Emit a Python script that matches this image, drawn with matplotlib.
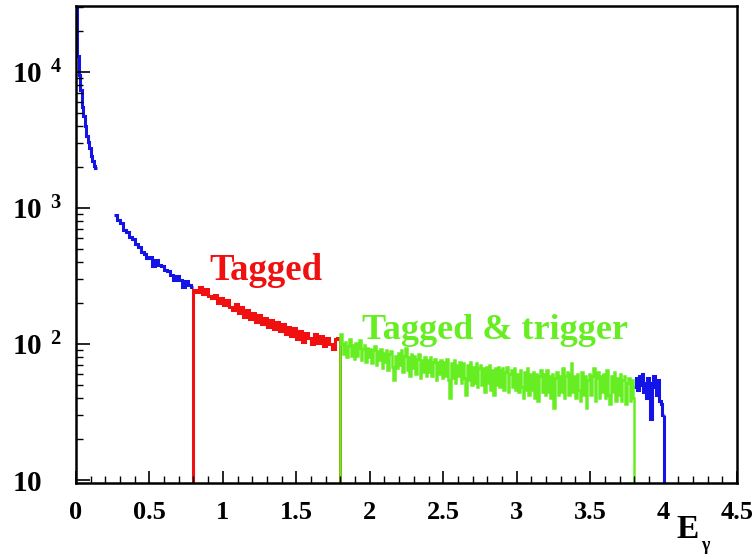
import matplotlib
matplotlib.use("Agg")
import matplotlib.pyplot as plt
import numpy as np
from matplotlib.ticker import FixedLocator, MultipleLocator, NullFormatter

# ---- photon energy spectrum, counts per bin ----
# steep low-energy part (0.00 - 0.14, bins of 0.01)
low_start = 0.0
low_width = 0.01
low_counts = [35000, 13000, 9500, 7300, 5500, 4700, 4000, 3400, 3050,
              2750, 2400, 2200, 2050, 1950]

# untagged part, 0.26 - 0.80, bins of 0.02
untagged_start = 0.26
untagged_width = 0.02
untagged_counts = [880, 810, 770, 690, 668, 610, 590, 540, 520, 475, 462,
                   430, 436, 372, 412, 378, 376, 348, 346, 322, 296, 316,
                   296, 262, 290, 272, 264]

# tagged range, 0.80 - 1.80, bins of 0.02
tagged_start = 0.80
tagged_width = 0.02
tagged_counts = [250, 240, 262, 232, 252, 226, 218, 230, 200, 218,
                 194, 212, 186, 178, 198, 170, 186, 158, 178, 152,
                 170, 146, 162, 140, 156, 134, 150, 128, 146, 124,
                 140, 118, 134, 114, 130, 108, 124, 104, 120, 110,
                 100, 118, 102, 114, 96, 110, 100, 92, 108, 110]

# tagged & trigger range, 1.80 - 3.80, bins of 0.01
trigger_start = 1.80
trigger_width = 0.01
trigger_counts = [118, 100, 84, 104, 80, 96, 108, 82, 98, 78,
                  102, 82, 94, 106, 76, 92, 98, 74, 94, 80,
                  92, 72, 90, 96, 70, 88, 76, 92, 66, 86,
                  74, 90, 64, 84, 88, 68, 54, 82, 66, 86,
                  70, 90, 62, 82, 94, 64, 80, 58, 84, 66,
                  82, 60, 78, 84, 56, 76, 62, 80, 58, 76,
                  62, 80, 58, 74, 78, 54, 74, 60, 76, 56,
                  74, 58, 78, 54, 40, 72, 56, 76, 52, 70,
                  58, 74, 52, 72, 56, 42, 70, 54, 74, 50,
                  68, 52, 72, 48, 66, 70, 50, 66, 44, 68,
                  52, 70, 46, 64, 42, 66, 50, 68, 48, 64,
                  66, 46, 62, 68, 44, 60, 64, 48, 66, 46,
                  60, 44, 64, 48, 40, 62, 46, 66, 42, 60,
                  46, 62, 40, 60, 38, 58, 64, 44, 60, 42,
                  64, 44, 58, 40, 60, 34, 56, 62, 42, 58,
                  44, 66, 40, 58, 62, 42, 60, 72, 44, 58,
                  40, 60, 46, 38, 62, 42, 58, 34, 54, 60,
                  42, 58, 66, 38, 56, 62, 40, 58, 44, 60,
                  40, 64, 42, 36, 58, 44, 62, 38, 56, 42,
                  60, 38, 54, 58, 36, 52, 56, 38, 54, 40]

# endpoint region, 3.80 - 4.00, bins of 0.01
endpoint_start = 3.80
endpoint_width = 0.01
endpoint_counts = [48, 56, 46, 58, 50, 60, 44, 52, 40, 56,
                   52, 28, 48, 58, 50, 42, 54, 38, 36, 30]

x_ticks = [0, 0.5, 1, 1.5, 2, 2.5, 3, 3.5, 4, 4.5]
x_tick_labels = ["0", "0.5", "1", "1.5", "2", "2.5", "3", "3.5", "4", "4.5"]
y_ticks = [10, 100, 1000, 10000]
y_tick_labels = [r"$10$", r"$10^{\;\;2}$", r"$10^{\;\;3}$", r"$10^{\;\;4}$"]

YMIN, YMAX = 9.5, 30500

BLUE = "#1414e6"
RED = "#f01010"
GREEN = "#66ee22"
SERIF = "Liberation Serif"
LW = 2.2

plt.rcParams["mathtext.fontset"] = "custom"
plt.rcParams["mathtext.rm"] = "Liberation Serif:bold"
plt.rcParams["mathtext.bf"] = "Liberation Serif:bold"
plt.rcParams["mathtext.it"] = "Liberation Serif:bold:italic"

fig = plt.figure(figsize=(7.56, 5.57), dpi=100)
ax = fig.add_axes([0.1005, 0.1329, 0.8744, 0.8563])


def edges_for(start, width, counts):
    return start + width * np.arange(len(counts) + 1)


low_edges = edges_for(low_start, low_width, low_counts)
untagged_edges = edges_for(untagged_start, untagged_width, untagged_counts)
tagged_edges = edges_for(tagged_start, tagged_width, tagged_counts)
trigger_edges = edges_for(trigger_start, trigger_width, trigger_counts)
endpoint_edges = edges_for(endpoint_start, endpoint_width, endpoint_counts)

# spectrum outside the selected ranges in blue
ax.stairs(low_counts, low_edges, baseline=None, color=BLUE, lw=LW)
ax.stairs(untagged_counts, untagged_edges, baseline=None, color=BLUE, lw=LW)
ax.stairs(endpoint_counts, endpoint_edges, baseline=None, color=BLUE, lw=LW)
ax.vlines(endpoint_edges[-1], YMIN, endpoint_counts[-1], color=BLUE, lw=LW)

# tagged and tagged & trigger ranges
ax.stairs(tagged_counts, tagged_edges, baseline=YMIN, color=RED, lw=LW)
ax.stairs(trigger_counts, trigger_edges, baseline=YMIN, color=GREEN, lw=1.8)

ax.set_yscale("log")
ax.set_xlim(0, 4.5)
ax.set_ylim(YMIN, YMAX)

# axes styling
for side in ax.spines.values():
    side.set_linewidth(1.8)
    side.set_color("black")

ax.xaxis.set_major_locator(FixedLocator(x_ticks))
ax.xaxis.set_minor_locator(MultipleLocator(0.1))
ax.set_xticklabels(x_tick_labels, fontfamily=SERIF, fontweight="bold", fontsize=19)
ax.tick_params(axis="x", which="major", direction="in", length=9, width=1.2, pad=13)
ax.tick_params(axis="x", which="minor", direction="in", length=5, width=1.0)

minor_y = [m * 10 ** e for e in range(1, 5) for m in range(2, 10)]
ax.yaxis.set_major_locator(FixedLocator(y_ticks))
ax.yaxis.set_minor_locator(FixedLocator(minor_y))
ax.yaxis.set_minor_formatter(NullFormatter())
ax.set_yticklabels(y_tick_labels, fontsize=21)
ax.tick_params(axis="y", which="major", direction="in", length=10, width=1.2, pad=46)
ax.tick_params(axis="y", which="minor", direction="in", length=5, width=1.0)
for lab in ax.get_yticklabels():
    lab.set_horizontalalignment("left")

ax.tick_params(top=False, right=False, which="both")

# range annotations
ax.text(0.91, 345, "Tagged", color=RED, fontfamily=SERIF, fontweight="bold",
        fontsize=26.5, ha="left", va="center")
ax.text(1.945, 125, "Tagged & trigger", color=GREEN, fontfamily=SERIF,
        fontweight="bold", fontsize=26, ha="left", va="center")

# axis title
fig.text(688 / 756, 1 - 530 / 557, "E", fontfamily=SERIF, fontweight="bold",
         fontsize=24, ha="center", va="center")
fig.text(705 / 756, 1 - 545 / 557, "γ", fontfamily=SERIF, fontweight="bold",
         fontsize=13, ha="center", va="center")

fig.savefig("out.png", dpi=100, facecolor="white")
